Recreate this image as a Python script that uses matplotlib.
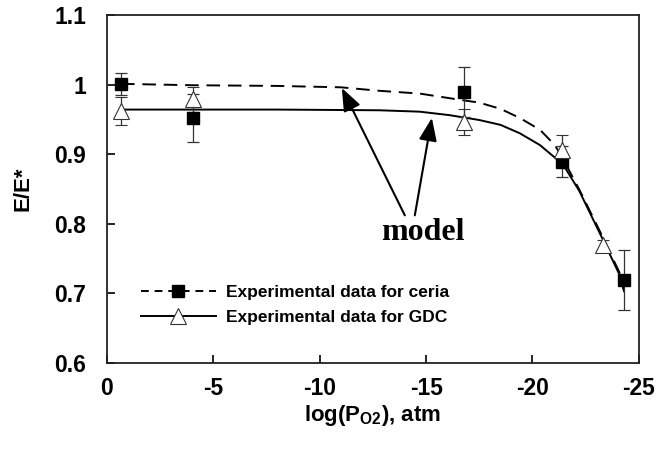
import numpy as np
import matplotlib
matplotlib.use("Agg")
import matplotlib.pyplot as plt
from matplotlib.lines import Line2D

plt.rcParams['font.family'] = ['Liberation Sans', 'DejaVu Sans']

# measured points
log_po2 = [-0.66, -4.04, -16.8, -21.4, -24.3]
ceria = [1.001, 0.952, 0.989, 0.889, 0.719]
ceria_err = [0.016, 0.035, 0.036, 0.022, 0.043]
gdc_x = [-0.66, -4.04, -16.8, -21.4, -23.3]
gdc = [0.962, 0.979, 0.946, 0.906, 0.770]
gdc_err = [0.020, 0.018, 0.019, 0.022, 0.007]

# model curves
ceria_model_x = [-0.66, -4.0, -8.0, -11.0, -12.8, -14.7, -16.6, -17.5, -18.5,
                 -19.4, -20.35, -21.05, -21.4, -22.2, -23.2, -24.1, -24.3]
ceria_model = [1.001, 0.999, 0.998, 0.996, 0.991, 0.987, 0.978, 0.974, 0.965,
               0.952, 0.935, 0.913, 0.895, 0.849, 0.787, 0.729, 0.705]
gdc_model_x = [-0.66, -4.0, -8.0, -12.8, -14.7, -16.1, -17.5, -18.5, -19.4,
               -20.35, -21.05, -21.4, -22.2, -23.2, -24.1, -24.3]
gdc_model = [0.964, 0.964, 0.964, 0.963, 0.961, 0.956, 0.949, 0.942, 0.930,
             0.913, 0.895, 0.887, 0.847, 0.784, 0.726, 0.703]

xticks = [0, -5, -10, -15, -20, -25]
yticks = [0.6, 0.7, 0.8, 0.9, 1.0, 1.1]
ytick_labels = ['0.6', '0.7', '0.8', '0.9', '1', '1.1']

fig = plt.figure(figsize=(6.6, 4.53), dpi=100)
ax = fig.add_axes([0.162, 0.199, 0.806, 0.768])

ax.plot(ceria_model_x, ceria_model, color='black', lw=1.4, dashes=(7, 4))
ax.plot(gdc_model_x, gdc_model, color='black', lw=1.4)

ax.errorbar(log_po2, ceria, yerr=ceria_err, fmt='s', color='black', ms=9,
            ecolor='#333333', elinewidth=0.9, capsize=4, capthick=0.9, zorder=4)
ax.errorbar(gdc_x, gdc, yerr=gdc_err, fmt='^', mfc='white', mec='#333333',
            mew=0.8, ms=11, ecolor='#333333', elinewidth=0.9, capsize=4,
            capthick=0.9, zorder=4)

ax.set_xlim(0, -25)
ax.set_ylim(0.6, 1.1)
ax.set_xticks(xticks)
ax.set_xticklabels([str(t) for t in xticks])
ax.set_yticks(yticks)
ax.set_yticklabels(ytick_labels)
ax.tick_params(direction='in', length=6, width=1.2, labelsize=16.5,
               top=False, right=False)
ax.tick_params(axis='y', pad=15)
ax.tick_params(axis='x', pad=10)
for lab in ax.get_xticklabels() + ax.get_yticklabels():
    lab.set_fontweight('bold')
for s in ax.spines.values():
    s.set_linewidth(1.3)
    s.set_color('#222222')

ax.set_ylabel('E/E*', fontsize=16, fontweight='bold', labelpad=15)
ax.set_xlabel('log(P$_{\\mathregular{O2}}$), atm', fontsize=16,
              fontweight='bold', labelpad=2)

# annotation
ax.text(-14.85, 0.787, 'model', family='Liberation Serif', fontsize=23,
        fontweight='bold', ha='center', va='center')
arrow = dict(arrowstyle='-|>,head_length=1.4,head_width=0.55',
             color='black', lw=1.5, shrinkA=0, shrinkB=0)
ax.annotate('', xy=(-11.04, 0.995), xytext=(-14.0, 0.812), arrowprops=arrow)
ax.annotate('', xy=(-15.27, 0.952), xytext=(-14.47, 0.812), arrowprops=arrow)

handles = [
    Line2D([], [], color='black', lw=1.4, dashes=(4, 3), marker='s', ms=9),
    Line2D([], [], color='black', lw=1.4, marker='^', ms=11, mfc='white',
           mec='#333333', mew=0.8),
]
leg = ax.legend(handles, ['Experimental data for ceria', 'Experimental data for GDC'],
                loc='lower left', bbox_to_anchor=(0.035, 0.065), frameon=False,
                prop={'size': 12.5, 'weight': 'bold'}, handlelength=4.3,
                handletextpad=0.6, labelspacing=0.55)

fig.savefig('out.png', dpi=100)
